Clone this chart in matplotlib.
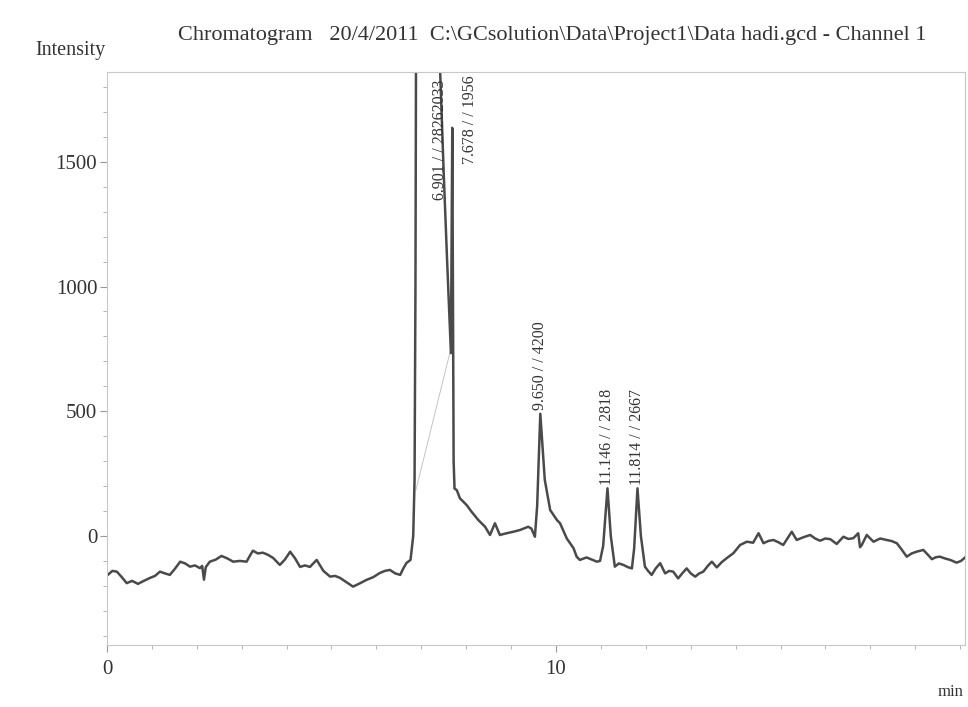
import matplotlib
matplotlib.use("Agg")
import matplotlib.pyplot as plt
from matplotlib.ticker import MultipleLocator

plt.rcParams["font.family"] = ["Liberation Serif", "DejaVu Serif"]

# retention time (min) and detector intensity
time_min = [
    0.00, 0.02, 0.12, 0.22, 0.33, 0.44, 0.56, 0.69, 0.82, 0.96, 1.07, 1.18,
    1.29, 1.40, 1.52, 1.63, 1.74, 1.85, 1.96, 2.07, 2.12, 2.16, 2.20, 2.29,
    2.42, 2.55, 2.68, 2.81, 2.96, 3.11, 3.18, 3.25, 3.36, 3.47, 3.58, 3.70,
    3.85, 3.96, 4.08, 4.19, 4.30, 4.41, 4.52, 4.67, 4.82, 4.97, 5.08, 5.19,
    5.33, 5.48, 5.63, 5.78, 5.93, 6.08, 6.19, 6.30, 6.42, 6.53, 6.60, 6.67,
    6.76, 6.82, 6.85, 6.87, 6.89, 6.92, 7.20, 7.35, 7.42, 7.50, 7.58, 7.66,
    7.69, 7.72, 7.74, 7.79, 7.86, 8.01, 8.12, 8.27, 8.42, 8.53, 8.64, 8.75,
    8.90, 9.05, 9.20, 9.38, 9.45, 9.53, 9.58, 9.65, 9.75, 9.87, 10.02, 10.09,
    10.24, 10.39, 10.46, 10.53, 10.68, 10.80, 10.91, 10.98, 11.05, 11.146,
    11.22, 11.31, 11.40, 11.50, 11.60, 11.69, 11.74, 11.814, 11.89, 11.98,
    12.05, 12.13, 12.22, 12.32, 12.43, 12.52, 12.61, 12.72, 12.81, 12.91,
    13.00, 13.10, 13.19, 13.28, 13.38, 13.47, 13.58, 13.69, 13.80, 13.95,
    14.10, 14.25, 14.39, 14.51, 14.62, 14.73, 14.84, 14.95, 15.06, 15.25,
    15.36, 15.51, 15.66, 15.77, 15.88, 16.00, 16.11, 16.25, 16.40, 16.51,
    16.62, 16.73, 16.77, 16.81, 16.92, 17.07, 17.22, 17.36, 17.47, 17.59,
    17.70, 17.81, 17.92, 18.03, 18.18, 18.28, 18.37, 18.46, 18.55, 18.66,
    18.78, 18.92, 19.02, 19.11,
]
intensity = [
    -150, -156, -140, -143, -165, -189, -180, -192, -180, -168, -160, -143,
    -150, -156, -130, -103, -110, -123, -118, -129, -120, -175, -125, -103,
    -95, -80, -90, -103, -100, -103, -80, -59, -70, -67, -75, -88,
    -116, -95, -63, -90, -124, -118, -124, -96, -140, -163, -160, -168,
    -185, -203, -190, -176, -165, -148, -140, -136, -150, -156, -130, -108,
    -96, 0, 225, 1000, 2500, 4000, 4000, 2600, 1860, 1450, 1080, 733,
    1636, 300, 190, 184, 151, 124, 97, 64, 37, 4, 51, 4,
    11, 17, 24, 37, 30, -3, 120, 490, 225, 104, 64, 51,
    -10, -49, -83, -96, -86, -95, -103, -100, -40, 191,
    0, -123, -110, -116, -125, -130, -50, 191, 0, -123,
    -140, -156, -130, -109, -150, -140, -143, -170, -150, -130,
    -150, -163, -150, -143, -120, -103, -126, -105, -89, -69,
    -36, -23, -27, 11, -29, -20, -16, -25, -36, 17,
    -16, -5, 4, -10, -19, -10, -13, -32, -3, -12,
    -9, 11, -45, -36, 4, -23, -10, -16, -20, -29,
    -55, -83, -70, -63, -56, -75, -93, -85, -83, -90,
    -96, -107, -100, -86,
]

# integration baseline drawn under the first two peaks
base_t = [6.88, 7.68]
base_i = [184, 766]

# peak annotations: label time, label start intensity, text
peak_t = [7.42, 8.08, 9.65, 11.146, 11.814]
peak_y = [1345, 1490, 505, 205, 205]
peak_text = ["6.901 / / 28262033", "7.678 / / 1956", "9.650 / / 4200",
             "11.146 / / 2818", "11.814 / / 2667"]

fig = plt.figure(figsize=(9.68, 7.07), dpi=100)
ax = fig.add_axes([0.1105, 0.0877, 0.8865, 0.8105])

ax.plot(base_t, base_i, color="#bbbbbb", linewidth=0.6)
ax.plot(time_min, intensity, color="#4a4a4a", linewidth=1.8)

for t, y, s in zip(peak_t, peak_y, peak_text):
    ax.text(t, y, s, rotation=90, ha="center", va="bottom",
            fontsize=11.5, color="#333333")

ax.set_xlim(0, 19.11)
ax.set_ylim(-437, 1860)
ax.xaxis.set_major_locator(MultipleLocator(10))
ax.xaxis.set_minor_locator(MultipleLocator(1))
ax.yaxis.set_major_locator(MultipleLocator(500))
ax.yaxis.set_minor_locator(MultipleLocator(100))

for sp in ax.spines.values():
    sp.set_color("#c8c8c8")
    sp.set_linewidth(0.8)
ax.tick_params(which="major", length=5, color="#999999", labelsize=15,
               labelcolor="#333333", pad=2)
ax.tick_params(axis="x", which="major", pad=6)
ax.tick_params(which="minor", length=3, color="#aaaaaa")

fig.text(0.57, 0.950,
         r"Chromatogram   20/4/2011  C:\GCsolution\Data\Project1\Data hadi.gcd - Channel 1",
         ha="center", va="center", fontsize=16, color="#333333")
fig.text(0.073, 0.928, "Intensity", ha="center", va="center",
         fontsize=14.5, color="#333333")
fig.text(0.982, 0.021, "min", ha="center", va="center",
         fontsize=12, color="#333333")

plt.savefig("out.png", dpi=100)
plt.close()
